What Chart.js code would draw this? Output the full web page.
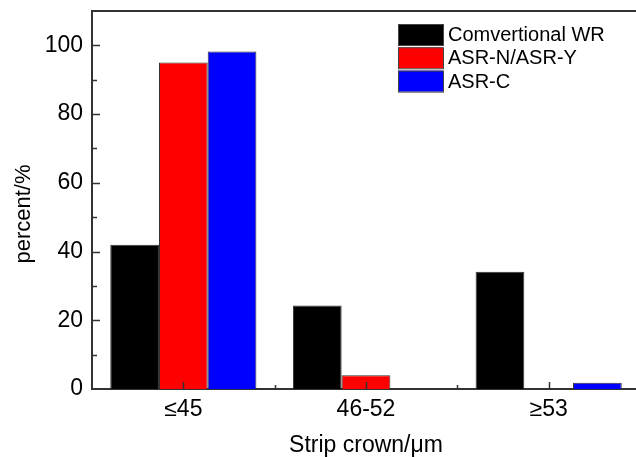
<!DOCTYPE html>
<html><head><meta charset="utf-8">
<script src="https://cdn.jsdelivr.net/npm/chart.js@4/dist/chart.umd.min.js"></script>
<style>html,body{margin:0;padding:0;overflow:hidden;background:#fff;width:636px;height:457px}
#wrap{width:642px;height:457px;position:relative}</style></head>
<body><div id="wrap"><canvas id="c" width="642" height="457"></canvas></div>
<script>
const categories = ['≤45', '46-52', '≥53'];
const seriesNames = ['Comvertional WR', 'ASR-N/ASR-Y', 'ASR-C'];
const conventionalWR = [42, 24.3, 34.1];
const asrNY = [95, 4, 0];
const asrC = [98.2, 0, 1.8];
const seriesColors = ['#000000', '#ff0000', '#0000ff'];
const yMax = 110;
const yStep = 10;
const yLabelStep = 20;
const xTitle = 'Strip crown/μm';
const yTitle = 'percent/%';

const FONT = '"Liberation Sans", Arial, sans-serif';
const AXIS = '#333333';

const boxPlugin = {
  id: 'boxPlugin',
  afterDraw(chart) {
    const {ctx, chartArea: a, scales: {x, y}} = chart;
    ctx.save();
    ctx.strokeStyle = AXIS;
    ctx.lineWidth = 2;
    ctx.beginPath();
    ctx.moveTo(a.left - 1, a.top);
    ctx.lineTo(a.right + 1, a.top);
    ctx.moveTo(a.right, a.top);
    ctx.lineTo(a.right, a.bottom);
    ctx.stroke();
    // inward ticks on y
    ctx.lineWidth = 1.5;
    ctx.beginPath();
    for (let v = yStep; v < yMax; v += yStep) {
      const py = Math.round(y.getPixelForValue(v)) + 0.5;
      const len = (v % yLabelStep === 0) ? 8 : 5;
      ctx.moveTo(a.left, py);
      ctx.lineTo(a.left + len, py);
    }
    // inward ticks on x
    const n = categories.length;
    for (let i = 0; i < n; i++) {
      const px = Math.round(x.getPixelForValue(i)) + 0.5;
      ctx.moveTo(px, a.bottom);
      ctx.lineTo(px, a.bottom - 7);
      if (i < n - 1) {
        const pb = Math.round((x.getPixelForValue(i) + x.getPixelForValue(i + 1)) / 2) + 0.5;
        ctx.moveTo(pb, a.bottom);
        ctx.lineTo(pb, a.bottom - 4);
      }
    }
    ctx.stroke();
    // y title
    ctx.fillStyle = '#000';
    ctx.font = '22px ' + FONT;
    ctx.textAlign = 'center';
    ctx.textBaseline = 'middle';
    ctx.translate(24, 214);
    ctx.rotate(-Math.PI / 2);
    ctx.fillText(yTitle, 0, 0);
    ctx.setTransform(1, 0, 0, 1, 0, 0);
    // legend
    const lx = 398, ly = 24, bw = 45, bh = 21, gap = 23.3;
    ctx.font = '20px ' + FONT;
    ctx.textBaseline = 'middle';
    ctx.textAlign = 'left';
    chart.data.datasets.forEach((ds, i) => {
      const top = ly + i * gap;
      ctx.fillStyle = ds.backgroundColor;
      ctx.fillRect(lx, top, bw, bh);
      ctx.strokeStyle = '#444';
      ctx.lineWidth = 1;
      ctx.strokeRect(lx + 0.5, top + 0.5, bw, bh);
      ctx.fillStyle = '#000';
      ctx.fillText(ds.label, lx + bw + 5, top + bh / 2 + 1);
    });
    ctx.restore();
  }
};

new Chart(document.getElementById('c'), {
  type: 'bar',
  data: {
    labels: categories,
    datasets: [
      {label: seriesNames[0], data: conventionalWR, backgroundColor: seriesColors[0]},
      {label: seriesNames[1], data: asrNY, backgroundColor: seriesColors[1]},
      {label: seriesNames[2], data: asrC, backgroundColor: seriesColors[2]}
    ]
  },
  options: {
    responsive: false,
    animation: false,
    layout: {padding: {top: 11, right: 2, left: 0, bottom: 0}},
    datasets: {bar: {categoryPercentage: 0.8, barPercentage: 1, borderColor: '#333', borderWidth: 1, borderSkipped: 'start'}},
    plugins: {legend: {display: false}, tooltip: {enabled: false}},
    scales: {
      x: {
        grid: {display: false, drawTicks: false},
        border: {display: true, color: AXIS, width: 2},
        ticks: {color: '#000', font: {family: FONT, size: 23}, padding: 7, maxRotation: 0},
        title: {display: true, text: xTitle, color: '#000', font: {family: FONT, size: 23, lineHeight: 1}, padding: {top: 0, bottom: 0}},
        afterFit(s) { s.height = 68; s.paddingLeft = 0; s.paddingRight = 0; }
      },
      y: {
        min: 0, max: yMax,
        grid: {display: false, drawTicks: false},
        border: {display: true, color: AXIS, width: 2},
        ticks: {stepSize: yStep, color: '#000', font: {family: FONT, size: 23}, padding: 9,
          callback: (v) => (v % yLabelStep === 0 && v <= 100) ? String(v) : ''},
        afterFit(s) { s.width = 92; s.paddingTop = 0; s.paddingBottom = 0; }
      }
    }
  },
  plugins: [boxPlugin]
});
</script></body></html>
